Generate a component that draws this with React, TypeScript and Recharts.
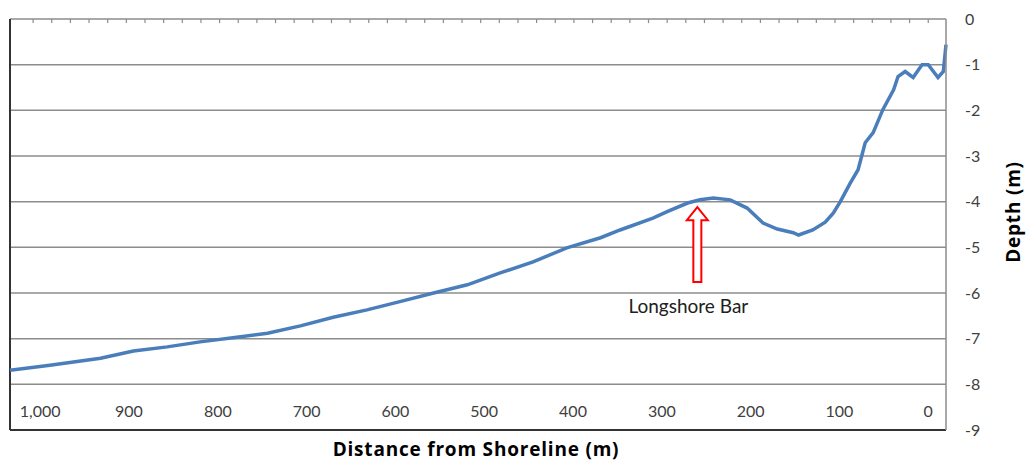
import React from 'react';
import { LineChart, Line, XAxis, YAxis, CartesianGrid, ReferenceLine } from 'recharts';

// distance from shoreline (m) and depth (m)
const distance = [
  1034, 989, 932, 895, 857, 820, 783, 744, 707, 670, 632, 595, 557, 519, 482, 445,
  407, 369, 347, 310, 294, 271, 257, 242, 223, 204, 186, 170, 152, 146, 130, 116,
  107, 99, 88, 79, 71, 62, 51, 39, 34, 26, 17, 7, 0, -11, -17, -20,
];
const depth = [
  -7.69, -7.58, -7.43, -7.27, -7.18, -7.07, -6.98, -6.88, -6.72, -6.53, -6.37, -6.19, -6.0, -5.82, -5.56, -5.32,
  -5.01, -4.79, -4.62, -4.36, -4.22, -4.03, -3.96, -3.92, -3.96, -4.14, -4.47, -4.6, -4.68, -4.73, -4.62, -4.45,
  -4.25, -4.0, -3.6, -3.3, -2.71, -2.49, -1.98, -1.55, -1.26, -1.15, -1.28, -1.0, -1.0, -1.28, -1.15, -0.56,
];

const xLabels = [1000, 900, 800, 700, 600, 500, 400, 300, 200, 100, 0];
const xMinor = [0, 21, 42, 63, 84, 105, 126, 147, 168, 189, 210, 231, 252, 273, 294, 315, 336, 357, 378, 399, 420,
  441, 462, 483, 504, 525, 546, 567, 588, 609, 630, 651, 672, 693, 714, 735, 756, 777, 798, 819, 840, 861, 882,
  903, 924, 945, 966, 987, 1008];
const yTicks = [0, -1, -2, -3, -4, -5, -6, -7, -8, -9];

const barX = 260;
const barTip = -4.12;
const barBase = -5.76;

const data = distance.map((d, i) => ({ d, depth: depth[i] }));

const FONT = 'Lato, "Open Sans", sans-serif';
const BOLD = '"Open Sans", Lato, sans-serif';
const TEXT = '#404040';

const BottomTick = (props: any) => {
  const { x, y, payload } = props;
  return (
    <text x={x} y={y - 13} textAnchor="middle" fontSize={16} fontFamily={FONT} fill={TEXT}>
      {Number(payload.value).toLocaleString('en-US')}
    </text>
  );
};

const Arrow = (props: any) => {
  const { x1, y1, x2, y2 } = props;
  const x = (x1 + x2) / 2;
  const tip = Math.min(y1, y2);
  const base = Math.max(y1, y2);
  const pts = [
    [x, tip],
    [x + 10.5, tip + 13],
    [x + 4, tip + 13],
    [x + 4, base],
    [x - 4, base],
    [x - 4, tip + 13],
    [x - 10.5, tip + 13],
  ].map((p) => p.join(',')).join(' ');
  return (
    <g>
      <polygon points={pts} fill="#fff" stroke="#ff0000" strokeWidth={2} strokeLinejoin="miter" />
      <text x={x - 9} y={base + 31} textAnchor="middle" fontSize={19} fontFamily={FONT} fill="#202020">
        Longshore Bar
      </text>
    </g>
  );
};

export default function App() {
  return (
    <div style={{ position: 'absolute', left: 0, top: 0, width: 1027, height: 462, background: '#fff' }}>
      <LineChart width={1027} height={462} data={data} margin={{ top: 19, right: 0, bottom: 0, left: 10 }}>
        <CartesianGrid vertical={false} stroke="#8c8c8c" strokeWidth={1.5} />
        <XAxis
          dataKey="d"
          type="number"
          domain={[-20, 1034]}
          reversed
          ticks={xLabels}
          interval={0}
          height={32}
          tickSize={0}
          tickMargin={0}
          tickLine={false}
          axisLine={{ stroke: '#333', strokeWidth: 2 }}
          tick={<BottomTick />}
          label={{
            content: (p: any) => {
              const vb = p.viewBox || {};
              const cx = (vb.x ?? 10) + (vb.width ?? 936) / 2 - 2;
              return (
                <text x={cx} y={456} textAnchor="middle" fontSize={19} fontWeight="bold" letterSpacing={0.8} fontFamily={BOLD} fill="#000">
                  Distance from Shoreline (m)
                </text>
              );
            },
          }}
        />
        <YAxis
          orientation="right"
          domain={[-9, 0]}
          ticks={yTicks}
          interval={0}
          width={81}
          tickSize={0}
          tickMargin={19}
          tickLine={false}
          axisLine={{ stroke: '#8c8c8c', strokeWidth: 1.5 }}
          tick={{ fontSize: 16, fontFamily: FONT, fill: TEXT }}
          label={{
            content: () => {
              const cx = 1020;
              const cy = 212;
              return (
                <text
                  x={cx}
                  y={cy}
                  transform={`rotate(-90 ${cx} ${cy})`}
                  textAnchor="middle"
                  fontSize={19}
                  letterSpacing={0.8}
                  fontWeight="bold"
                  fontFamily={BOLD}
                  fill="#000"
                >
                  Depth (m)
                </text>
              );
            },
          }}
        />
        {xMinor.map((t) => (
          <ReferenceLine
            key={t}
            segment={[{ x: t, y: 0 }, { x: t, y: -0.09 }]}
            stroke="#8c8c8c"
            strokeWidth={1.2}
          />
        ))}
        <ReferenceLine x={1034} stroke="#333" strokeWidth={2} />
        <ReferenceLine
          segment={[{ x: barX, y: barBase }, { x: barX, y: barTip }]}
          shape={<Arrow />}
        />
        <Line
          dataKey="depth"
          type="linear"
          stroke="#4a7ebb"
          strokeWidth={3.5}
          dot={false}
          isAnimationActive={false}
        />
      </LineChart>
    </div>
  );
}
